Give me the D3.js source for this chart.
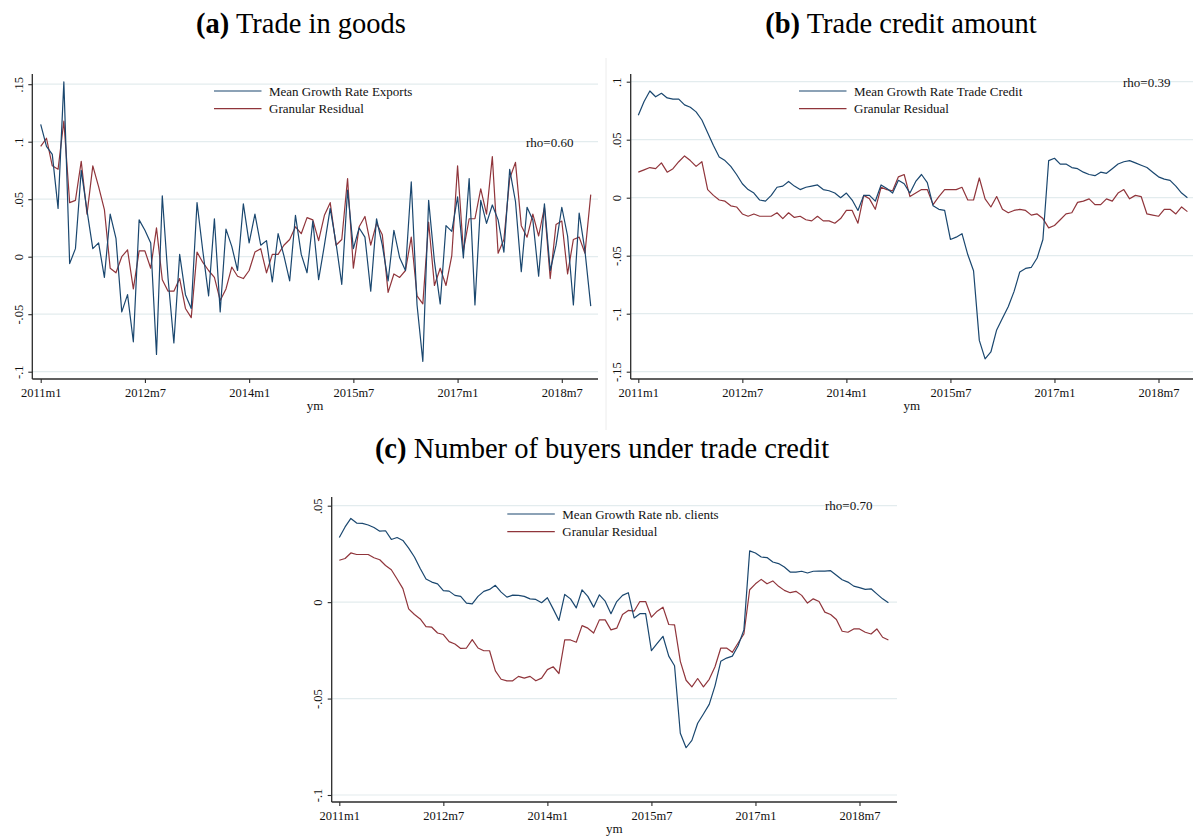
<!DOCTYPE html>
<html><head><meta charset="utf-8">
<script src="https://cdn.jsdelivr.net/npm/d3@7"></script>
<style>
body{margin:0;background:#fff}
svg{font-family:"Liberation Serif","Times New Roman",serif;display:block}
</style>
</head><body>
<svg id="chart" width="1196" height="837"></svg>
<script>
// ---------- DATA ----------
const months = [];
for (let yr = 2011; yr <= 2018; yr++) for (let m = 1; m <= 12; m++) months.push(yr + "m" + m);
const xTickLabels = ["2011m1","2012m7","2014m1","2015m7","2017m1","2018m7"];

const yTicksA = [-0.1,-0.05,0,0.05,0.1,0.15];
const yTicksB = [-0.15,-0.1,-0.05,0,0.05,0.1];
const yTicksC = [-0.1,-0.05,0,0.05];

const seriesNames = ["Mean Growth Rate Exports","Mean Growth Rate Trade Credit","Mean Growth Rate nb. clients"];
const residName = "Granular Residual";
const rhoLabels = ["rho=0.60","rho=0.39","rho=0.70"];
const titleTags = ["(a)","(b)","(c)"];
const titleTexts = ["Trade in goods","Trade credit amount","Number of buyers under trade credit"];

const exportsMean = [0.115,0.096,0.089,0.042,0.152,-0.006,0.007,0.075,0.040,0.007,
0.012,-0.018,0.037,0.016,-0.048,-0.033,-0.074,0.032,0.023,0.012,
-0.085,0.053,-0.019,-0.075,0.002,-0.033,-0.045,0.047,0.005,-0.034,
0.033,-0.048,0.024,0.009,-0.012,0.046,0.012,0.037,0.010,0.014,
-0.022,0.020,0.001,-0.021,0.036,0.002,-0.014,0.031,-0.020,0.010,
0.042,0.012,-0.024,0.058,0.007,0.025,0.017,-0.030,0.033,0.010,
-0.021,0.023,-0.001,-0.012,0.065,-0.042,-0.091,0.049,-0.004,-0.041,
0.027,0.022,0.052,-0.001,0.068,-0.042,0.049,0.029,0.045,0.032,
0.004,0.076,0.048,-0.013,0.043,0.032,-0.017,0.046,-0.012,0.010,
0.043,0.018,-0.042,0.038,0.005,-0.043];

const exportsResid = [0.096,0.103,0.079,0.076,0.118,0.047,0.049,0.083,0.037,0.079,
0.061,0.041,-0.010,-0.014,0.000,0.006,-0.028,0.005,0.005,-0.010,
0.025,-0.020,-0.030,-0.030,-0.019,-0.045,-0.053,0.004,-0.005,-0.012,
-0.018,-0.038,-0.028,-0.009,-0.017,-0.019,-0.012,0.004,0.007,-0.014,
0.002,0.002,0.010,0.015,0.026,0.020,0.034,0.032,0.014,0.036,
0.047,0.010,0.015,0.068,-0.010,0.026,0.035,0.010,0.029,0.019,
-0.031,-0.015,-0.018,-0.012,0.017,-0.034,-0.041,0.030,-0.025,-0.010,
-0.025,0.001,0.079,0.005,0.033,0.033,0.059,0.037,0.087,0.003,
0.015,0.068,0.082,0.027,0.017,0.037,0.018,0.043,-0.019,0.028,
0.031,-0.015,0.015,0.017,0.003,0.054];

const creditMean = [0.071,0.083,0.092,0.087,0.090,0.086,0.085,0.085,0.080,0.078,
0.074,0.067,0.056,0.045,0.035,0.032,0.027,0.020,0.012,0.007,
0.004,-0.002,-0.003,0.002,0.009,0.010,0.014,0.010,0.007,0.009,
0.010,0.011,0.007,0.006,0.004,0.000,0.004,-0.002,-0.011,0.002,
0.002,-0.003,0.011,0.008,0.004,0.015,0.012,0.004,0.014,0.020,
0.013,-0.007,-0.010,-0.011,-0.036,-0.034,-0.031,-0.049,-0.063,-0.123,
-0.139,-0.133,-0.114,-0.104,-0.094,-0.081,-0.064,-0.061,-0.060,-0.052,
-0.036,0.032,0.034,0.029,0.029,0.026,0.025,0.022,0.020,0.019,
0.022,0.021,0.025,0.029,0.031,0.032,0.030,0.028,0.026,0.022,
0.018,0.016,0.015,0.010,0.004,0.000];

const creditResid = [0.022,0.024,0.026,0.025,0.030,0.022,0.025,0.031,0.036,0.032,
0.027,0.031,0.007,0.002,-0.002,-0.003,-0.007,-0.008,-0.014,-0.016,
-0.014,-0.016,-0.016,-0.016,-0.013,-0.018,-0.013,-0.017,-0.016,-0.019,
-0.020,-0.016,-0.020,-0.020,-0.022,-0.018,-0.011,-0.011,-0.022,0.002,
-0.001,-0.010,0.009,0.007,0.006,0.018,0.020,0.001,0.004,0.007,
0.007,-0.006,0.001,0.007,0.007,0.007,0.009,-0.002,-0.002,0.017,
-0.001,-0.008,0.001,-0.010,-0.013,-0.011,-0.010,-0.011,-0.015,-0.014,
-0.018,-0.026,-0.024,-0.019,-0.014,-0.013,-0.004,-0.003,-0.001,-0.006,
-0.006,-0.001,-0.003,0.004,0.007,-0.001,0.002,0.001,-0.014,-0.015,
-0.016,-0.010,-0.010,-0.014,-0.008,-0.012];

const clientsMean = [0.0335,0.039,0.0434,0.041,0.0408,0.040,0.0387,0.0368,0.037,0.0325,
0.0335,0.032,0.028,0.0234,0.0174,0.012,0.0104,0.0095,0.006,0.0057,
0.0035,0.003,-0.0005,-0.0009,0.003,0.0056,0.0066,0.0087,0.0052,0.0026,
0.0036,0.0035,0.003,0.0017,0.0014,-0.0003,0.0023,-0.0035,-0.0095,0.004,
0.0017,-0.003,0.0064,0.003,-0.0026,0.0038,0.0005,-0.006,0.0003,0.0035,
0.0049,-0.0082,-0.006,-0.006,-0.0252,-0.0214,-0.0177,-0.028,-0.033,-0.068,
-0.0755,-0.0717,-0.0628,-0.058,-0.053,-0.0434,-0.0307,-0.029,-0.028,-0.0226,
-0.0144,0.0266,0.0255,0.0234,0.0231,0.0208,0.020,0.0182,0.0156,0.0156,
0.016,0.0151,0.016,0.0161,0.0161,0.0163,0.0139,0.0116,0.0104,0.0083,
0.0075,0.0066,0.0069,0.0043,0.0017,-0.0003];

const clientsResid = [0.0217,0.0226,0.0255,0.0247,0.0247,0.0247,0.023,0.022,0.019,0.0168,
0.012,0.007,-0.0035,-0.0064,-0.0087,-0.0127,-0.013,-0.016,-0.0168,-0.0205,
-0.0217,-0.024,-0.0238,-0.0194,-0.0238,-0.0252,-0.0252,-0.0356,-0.040,-0.0408,
-0.0408,-0.0385,-0.0394,-0.0385,-0.0408,-0.0394,-0.035,-0.0335,-0.037,-0.0196,
-0.0196,-0.0208,-0.0122,-0.0135,-0.016,-0.0092,-0.0092,-0.0144,-0.0135,-0.0064,
-0.0043,-0.0047,0.0003,0.0003,-0.0078,-0.0047,-0.0026,-0.0116,-0.0118,-0.0307,
-0.0405,-0.0439,-0.0396,-0.0439,-0.040,-0.0335,-0.0238,-0.0238,-0.026,-0.0212,
-0.0165,0.0064,0.0095,0.0118,0.0095,0.011,0.0082,0.0061,0.0049,0.0056,
0.0035,-0.0005,0.0017,0.0003,-0.0052,-0.0064,-0.009,-0.0151,-0.0156,-0.0139,
-0.0139,-0.0156,-0.0165,-0.0139,-0.0182,-0.0196];

// ---------- STYLE / LAYOUT ----------
const BLUE = "#1a476f", RED = "#90353b", GRID = "#e3ecee", AXIS = "#2b2b2b";
const svg = d3.select("#chart");

const panels = [
  {mean: exportsMean, resid: exportsResid, ticks: yTicksA, dom: [-0.1, 0.15],
   axL: 32.3, axT: 74, axB: 379, axR: 598, x0: 40.7, x1: 590.75, yLo: 371.7, yHi: 84.2,
   legX: 214, legY: 91, rhoX: 526, rhoY: 147, titleX: 301, titleY: 33},
  {mean: creditMean, resid: creditResid, ticks: yTicksB, dom: [-0.15, 0.1],
   axL: 630.7, axT: 74, axB: 379, axR: 1193, x0: 638.3, x1: 1187.4, yLo: 371.7, yHi: 81.7,
   legX: 799, legY: 91, rhoX: 1123, rhoY: 87, titleX: 901, titleY: 33},
  {mean: clientsMean, resid: clientsResid, ticks: yTicksC, dom: [-0.1, 0.05],
   axL: 331.7, axT: 497, axB: 802, axR: 897, x0: 339.3, x1: 888.4, yLo: 795, yHi: 505.7,
   legX: 507.3, legY: 514, rhoX: 825, rhoY: 510, titleX: 602, titleY: 458}
];

const fmt = d => d === 0 ? "0" : (d < 0 ? "-" : "") + String(+Math.abs(d).toFixed(3)).replace(/^0/, "");

// faint border of panel (b) graph region
svg.append("line").attr("x1", 606).attr("x2", 606).attr("y1", 58).attr("y2", 430)
  .attr("stroke", "#ececec").attr("stroke-width", 1);

panels.forEach((p, k) => {
  const x = d3.scaleLinear().domain([0, months.length - 1]).range([p.x0, p.x1]);
  const y = d3.scaleLinear().domain(p.dom).range([p.yLo, p.yHi]);
  const g = svg.append("g");

  // gridlines
  g.selectAll(".grid").data(p.ticks).join("line")
    .attr("x1", p.axL).attr("x2", p.axR)
    .attr("y1", d => y(d)).attr("y2", d => y(d))
    .attr("stroke", GRID).attr("stroke-width", 1.2);

  // y axis
  const ya = g.append("g").attr("transform", `translate(${p.axL},0)`)
    .call(d3.axisLeft(y).tickValues(p.ticks).tickFormat(fmt).tickSize(4).tickSizeOuter(0));
  ya.select(".domain").remove();
  ya.selectAll(".tick line").attr("stroke", AXIS).attr("stroke-width", 1.1);
  ya.selectAll(".tick text").attr("transform", "rotate(-90)")
    .attr("x", 0).attr("y", -9.5).attr("dy", 0).attr("text-anchor", "middle")
    .attr("font-size", 12.5).attr("fill", "#111").style("font-family", "Liberation Serif");
  g.append("line").attr("x1", p.axL).attr("x2", p.axL).attr("y1", p.axT).attr("y2", p.axB)
    .attr("stroke", AXIS).attr("stroke-width", 1.3);

  // x axis
  const tickIdx = xTickLabels.map(l => months.indexOf(l));
  const xa = g.append("g").attr("transform", `translate(0,${p.axB})`)
    .call(d3.axisBottom(x).tickValues(tickIdx).tickFormat(i => months[i]).tickSize(4).tickSizeOuter(0));
  xa.select(".domain").remove();
  xa.selectAll(".tick line").attr("stroke", AXIS).attr("stroke-width", 1.1);
  xa.selectAll(".tick text").attr("y", 17.5).attr("dy", 0)
    .attr("font-size", 12.5).attr("fill", "#111").style("font-family", "Liberation Serif");
  g.append("line").attr("x1", p.axL).attr("x2", p.axR).attr("y1", p.axB).attr("y2", p.axB)
    .attr("stroke", AXIS).attr("stroke-width", 1.3);

  g.append("text").attr("x", (p.axL + p.axR) / 2).attr("y", p.axB + 30.5)
    .attr("text-anchor", "middle").attr("font-size", 13).attr("fill", "#111").text("ym");

  // series
  const line = d3.line().x((d, i) => x(i)).y(d => y(d));
  g.append("path").datum(p.resid).attr("d", line).attr("fill", "none")
    .attr("stroke", RED).attr("stroke-width", 1.2).attr("stroke-linejoin", "round");
  g.append("path").datum(p.mean).attr("d", line).attr("fill", "none")
    .attr("stroke", BLUE).attr("stroke-width", 1.2).attr("stroke-linejoin", "round");

  // legend
  const leg = [[seriesNames[k], BLUE], [residName, RED]];
  leg.forEach(([name, col], j) => {
    const ly = p.legY + j * 17.7;
    g.append("line").attr("x1", p.legX).attr("x2", p.legX + 47.5).attr("y1", ly).attr("y2", ly)
      .attr("stroke", col).attr("stroke-width", 1.2);
    g.append("text").attr("x", p.legX + 55).attr("y", ly + 4.5).attr("font-size", 13)
      .attr("fill", "#111").text(name);
  });

  // rho
  g.append("text").attr("x", p.rhoX).attr("y", p.rhoY).attr("font-size", 13)
    .attr("fill", "#111").text(rhoLabels[k]);

  // title
  const t = svg.append("text").attr("x", p.titleX).attr("y", p.titleY)
    .attr("text-anchor", "middle").attr("font-size", 28.5).attr("fill", "#000");
  t.append("tspan").attr("font-weight", "bold").text(titleTags[k]);
  t.append("tspan").text(" " + titleTexts[k]);
});
</script>
</body></html>
